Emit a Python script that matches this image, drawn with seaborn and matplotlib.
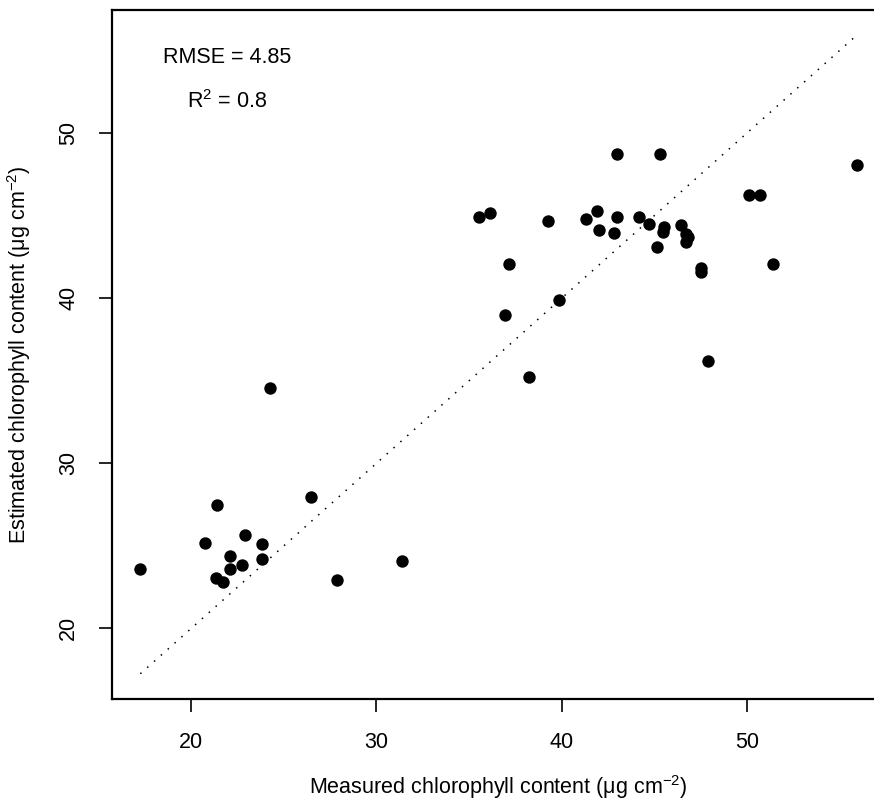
import matplotlib
matplotlib.use("Agg")
import matplotlib.pyplot as plt
import seaborn as sns
import pandas as pd
import numpy as np

measured = [17.25, 24.26, 26.45, 21.37, 20.73, 22.92, 23.84, 22.09, 22.73, 23.81,
            22.09, 21.34, 21.73, 27.86, 31.39,
            43.00, 45.33, 55.95, 50.10, 50.74, 35.53, 36.14, 39.27, 41.33, 41.90,
            43.01, 44.21, 42.01, 42.82, 44.75, 45.54, 45.50, 46.46, 46.73, 46.85,
            46.73, 45.13, 47.52, 47.52, 51.41, 37.18, 36.94, 39.87, 47.92, 38.26]
estimated = [23.57, 34.58, 27.99, 27.49, 25.15, 25.63, 25.09, 24.38, 23.85, 24.18,
             23.57, 23.03, 22.79, 22.91, 24.06,
             48.74, 48.74, 48.08, 46.28, 46.28, 44.94, 45.17, 44.66, 44.78, 45.27,
             44.94, 44.91, 44.12, 43.96, 44.48, 44.34, 44.00, 44.44, 43.88, 43.70,
             43.41, 43.12, 41.85, 41.61, 42.06, 42.06, 38.97, 39.91, 36.18, 35.21]
ticks = [20, 30, 40, 50]
xlabel = r"Measured chlorophyll content ($\mu$g cm$^{-2}$)"
ylabel = r"Estimated chlorophyll content ($\mu$g cm$^{-2}$)"
rmse_text = "RMSE = 4.85"
r2_text = r"R$^2$ = 0.8"

sns.set_style("white")
plt.rcParams['font.family'] = ['Liberation Sans', 'DejaVu Sans']
plt.rcParams['mathtext.fontset'] = 'custom'
plt.rcParams['mathtext.rm'] = 'Liberation Sans'
plt.rcParams['mathtext.it'] = 'Liberation Sans'
plt.rcParams['mathtext.default'] = 'regular'
plt.rcParams['text.color'] = 'black'
plt.rcParams['axes.labelcolor'] = 'black'
plt.rcParams['xtick.color'] = 'black'
plt.rcParams['ytick.color'] = 'black'

df = pd.DataFrame({"measured": measured, "estimated": estimated})

fig = plt.figure(figsize=(8.74, 8.05), dpi=100)
ax = fig.add_axes([112/874, 1 - 699/805, (885-112)/874, (699-10)/805])

sns.scatterplot(data=df, x="measured", y="estimated", ax=ax, color="black",
                s=80, edgecolor="black", linewidth=0, zorder=3)

lo, hi = min(measured), max(measured)
ax.plot([lo, hi], [lo, hi], color="black", linewidth=1.1,
        linestyle=(0, (1, 5)))

ax.set_xlim(15.72, 57.47)
ax.set_ylim(15.72, 57.47)
ax.set_xticks(ticks)
ax.set_yticks(ticks)
ax.set_xticklabels([str(t) for t in ticks])
ax.set_yticklabels([str(t) for t in ticks], rotation=90, va="center")
ax.tick_params(axis="both", direction="out", length=9.5, width=1.2,
               labelsize=15.5, colors="black", pad=14, bottom=True, left=True)
for sp in ax.spines.values():
    sp.set_linewidth(1.6)
    sp.set_color("black")

ax.set_xlabel(xlabel, fontsize=15.5, labelpad=15, color="black")
ax.set_ylabel(ylabel, fontsize=15.5, labelpad=18.5, color="black")

ax.text(21.93, 54.26, rmse_text, ha="center", va="baseline", fontsize=15.5, color="black")
ax.text(21.93, 51.53, r2_text, ha="center", va="baseline", fontsize=15.5, color="black")

fig.savefig("out.png", dpi=100)
